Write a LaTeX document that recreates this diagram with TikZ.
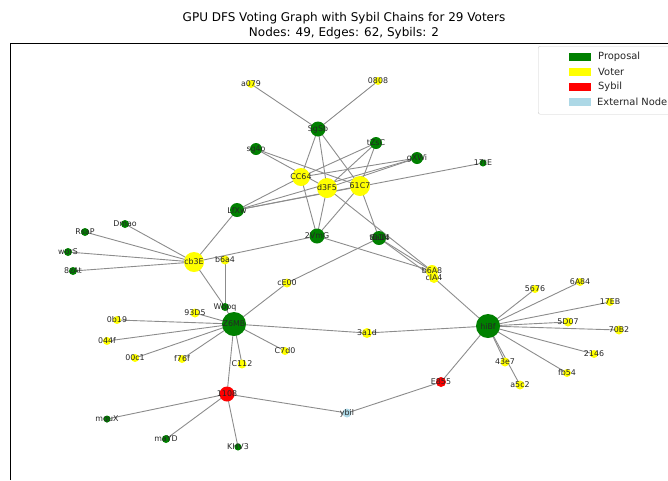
\documentclass[tikz,border=0pt]{standalone}
\usepackage{fontspec}
\setmainfont{DejaVu Sans}
\usetikzlibrary{backgrounds}
\definecolor{cprop}{HTML}{008000}
\definecolor{cvote}{HTML}{FFFF00}
\definecolor{csyb}{HTML}{FF0000}
\definecolor{cext}{HTML}{ADD8E6}
\definecolor{cedge}{HTML}{8C8C8C}
\tikzset{
  vx/.style={circle,inner sep=0pt,draw=none,minimum size=#1},
  prop/.style={vx=#1,fill=cprop},
  vote/.style={vx=#1,fill=cvote},
  syb/.style={vx=#1,fill=csyb},
  ext/.style={vx=#1,fill=cext},
  lbl/.style={font=\fontsize{7.9}{8}\selectfont,text=black!85,inner sep=0pt},
  edge/.style={draw=cedge,line width=0.9pt},
  patch/.style={minimum width=22pt,minimum height=7.5pt,inner sep=0pt,draw=none},
  legtxt/.style={font=\fontsize{9.9}{11}\selectfont,anchor=west,inner sep=0pt,text=black!85},
  ttl/.style={font=\fontsize{12}{13}\selectfont,inner sep=0pt}
}
\begin{document}
\begin{tikzpicture}[x=1pt,y=-1pt]
\useasboundingbox (0,0) rectangle (668,480);
% title
\node[ttl] (t1) at (344,18) {GPU DFS Voting Graph with Sybil Chains for 29 Voters};
\node[ttl] (t2) at (344,33) {Nodes: 49, Edges: 62, Sybils: 2};
% axes frame
\draw[line width=0.8pt] (10,480) -- (10,43) -- (668,43);
% nodes
\node[vote=8] (a079) at (251,84) {};
\node[vote=8] (0808) at (378,81) {};
\node[prop=15] (SgSb) at (318,129) {};
\node[prop=12] (sg4o) at (256,149) {};
\node[prop=12] (tZsC) at (376,143) {};
\node[prop=12] (gXWi) at (417,158) {};
\node[prop=7] (17tE) at (483,163) {};
\node[vote=18] (CC64) at (301,177) {};
\node[vote=20] (d3F5) at (327,188) {};
\node[vote=20] (61C7) at (360,186) {};
\node[prop=14] (LfXw) at (237,210) {};
\node[prop=15] (2VmG) at (317,236) {};
\node[prop=14] (tB1N) at (379,238) {};
\node[prop=1] (8a14) at (380,238) {};
\node[prop=8] (Dmao) at (125,224) {};
\node[prop=8] (RsaP) at (85,232) {};
\node[prop=8] (worS) at (68,252) {};
\node[prop=8] (8zAt) at (73,271) {};
\node[vote=20] (cb3E) at (194,262) {};
\node[vote=9] (b6a4) at (225,260) {};
\node[vote=12] (b6A8) at (432,271) {};
\node[vote=10] (clA4) at (434,278) {};
\node[vote=9] (cE00) at (287,283) {};
\node[prop=8] (Wbpq) at (225,307) {};
\node[prop=24] (Z6MB) at (234,324) {};
\node[vote=9] (93D5) at (195,313) {};
\node[vote=8] (0b19) at (117,320) {};
\node[vote=8] (044f) at (107,341) {};
\node[vote=8] (00c1) at (135,358) {};
\node[vote=8] (f76f) at (182,359) {};
\node[vote=9] (C112) at (242,364) {};
\node[vote=8] (C7d0) at (285,351) {};
\node[vote=10] (3a1d) at (367,333) {};
\node[prop=24] (hiBf) at (488,326) {};
\node[vote=8] (5676) at (535,289) {};
\node[vote=8] (6A84) at (580,282) {};
\node[vote=8] (17EB) at (610,302) {};
\node[vote=9] (5D07) at (568,322) {};
\node[vote=9] (70B2) at (619,330) {};
\node[vote=8] (2146) at (594,354) {};
\node[vote=9] (43e7) at (505,362) {};
\node[vote=8] (fb54) at (567,373) {};
\node[vote=9] (a5c2) at (520,385) {};
\node[syb=10] (E855) at (441,382) {};
\node[syb=15] (1108) at (227,394) {};
\node[ext=9] (ybil) at (347,413) {};
\node[prop=7] (mquX) at (107,419) {};
\node[prop=8] (maYD) at (166,439) {};
\node[prop=7] (KHV3) at (238,447) {};
% labels on top
\foreach \n in {a079,0808,SgSb,sg4o,tZsC,gXWi,17tE,CC64,d3F5,61C7,LfXw,2VmG,tB1N,8a14,
  Dmao,RsaP,worS,8zAt,cb3E,b6a4,b6A8,clA4,cE00,Wbpq,Z6MB,93D5,0b19,044f,00c1,f76f,
  C112,C7d0,3a1d,hiBf,5676,6A84,17EB,5D07,70B2,2146,43e7,fb54,a5c2,E855,1108,ybil,
  mquX,maYD,KHV3}
  \node[lbl] (\n-l) at (\n.center) {\n};
% edges
\begin{scope}[on background layer]
\foreach \a/\b in {a079/SgSb,0808/SgSb,SgSb/CC64,SgSb/d3F5,SgSb/61C7,
  sg4o/d3F5,sg4o/61C7,tZsC/CC64,tZsC/d3F5,tZsC/61C7,
  gXWi/CC64,gXWi/d3F5,gXWi/LfXw,17tE/LfXw,LfXw/CC64,LfXw/61C7,
  CC64/2VmG,d3F5/2VmG,61C7/2VmG,61C7/tB1N,d3F5/b6A8,
  2VmG/cb3E,2VmG/b6A8,tB1N/b6A8,tB1N/clA4,tB1N/cE00,
  LfXw/cb3E,Dmao/cb3E,RsaP/cb3E,worS/cb3E,8zAt/cb3E,cb3E/Wbpq,b6a4/Wbpq,
  cE00/Z6MB,Z6MB/93D5,Z6MB/0b19,Z6MB/044f,Z6MB/00c1,Z6MB/f76f,Z6MB/C112,
  Z6MB/C7d0,Z6MB/3a1d,Z6MB/Wbpq,Z6MB/1108,3a1d/hiBf,
  hiBf/clA4,hiBf/5676,hiBf/6A84,hiBf/17EB,hiBf/5D07,hiBf/70B2,hiBf/2146,
  hiBf/fb54,hiBf/43e7,hiBf/a5c2,hiBf/E855,
  E855/ybil,1108/ybil,1108/mquX,1108/maYD,1108/KHV3}
  \draw[edge] (\a.center) -- (\b.center);
\end{scope}
% legend
\node[draw=black!20,fill=white,rounded corners=2pt,minimum width=140pt,minimum height=68pt,anchor=north west,inner sep=0pt] (leg) at (538,46) {};
\node[patch,fill=cprop] (p1) at (580,57) {};
\node[patch,fill=cvote] (p2) at (580,72) {};
\node[patch,fill=csyb] (p3) at (580,87) {};
\node[patch,fill=cext] (p4) at (580,102) {};
\node[legtxt] (l1) at (598,57) {Proposal};
\node[legtxt] (l2) at (598,72) {Voter};
\node[legtxt] (l3) at (598,87) {Sybil};
\node[legtxt] (l4) at (597,102) {External Node};
\end{tikzpicture}
\end{document}
